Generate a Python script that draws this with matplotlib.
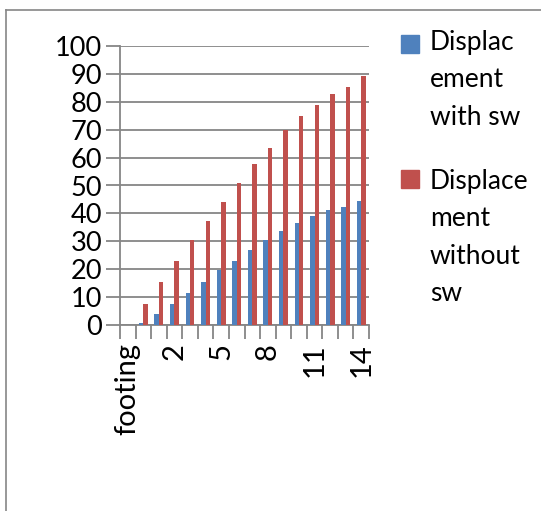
import matplotlib
matplotlib.use("Agg")
import matplotlib.pyplot as plt
import numpy as np
from matplotlib.patches import Rectangle
from matplotlib.lines import Line2D

plt.rcParams['font.family'] = ['Lato', 'DejaVu Sans']

categories = ["footing", "0", "1", "2", "3", "4", "5", "6", "7", "8", "9", "10", "11", "12", "13", "14"]
with_sw = [0, 0.7, 4.1, 7.6, 11.5, 15.5, 19.8, 23.0, 27.0, 30.4, 33.8, 36.6, 38.9, 41.2, 42.4, 44.6]
without_sw = [0, 7.5, 15.5, 23.0, 30.4, 37.2, 44.0, 51.0, 57.8, 63.5, 69.8, 74.9, 78.9, 82.9, 85.2, 89.4]
series_labels = ["Displac\nement\nwith sw", "Displace\nment\nwithout\nsw"]
colors = ["#4F81BD", "#C0504D"]

W, H = 541, 511
fig = plt.figure(figsize=(W / 100, H / 100), dpi=100)
ax = fig.add_axes([120 / W, 1 - 325 / H, (369 - 120) / W, (325 - 46) / H])

x = np.arange(len(categories))
bw = 0.286
ax.bar(x - bw / 2, with_sw, width=bw, color=colors[0], zorder=3)
ax.bar(x + bw / 2, without_sw, width=bw, color=colors[1], zorder=3)

grid_c = "#868686"
ax.set_ylim(0, 100)
ax.set_xlim(-0.5, len(categories) - 0.5)
ax.set_yticks(np.arange(0, 101, 10))
ax.yaxis.grid(True, color=grid_c, linewidth=1.3, zorder=0)
ax.set_axisbelow(True)
for s in ["top", "right"]:
    ax.spines[s].set_visible(False)
for s in ["left", "bottom"]:
    ax.spines[s].set_color(grid_c)
    ax.spines[s].set_linewidth(1.3)
ax.tick_params(axis='y', length=10, width=1.3, color=grid_c, labelsize=19.5, pad=3)

# x ticks: major at category boundaries (marks only), labels every 3rd category
ax.set_xticks(np.arange(-0.5, len(categories), 1.0))
ax.set_xticklabels([])
ax.tick_params(axis='x', which='major', length=10, width=1.3, color=grid_c)
ax.set_xticks(x[::3], minor=True)
ax.set_xticklabels([categories[i] for i in x[::3]], minor=True, rotation=90, fontsize=21)
ax.tick_params(axis='x', which='minor', length=0, pad=13)

# legend (manual)
items = [(35, 430, 35), (170, 430, 174)]
for (ytop, tx, captop), lab, c in zip(items, series_labels, colors):
    fig.patches.append(Rectangle((401 / W, 1 - (ytop + 18) / H), 18 / W, 18 / H,
                                 transform=fig.transFigure, color=c))
    fig.text(tx / W, 1 - (captop - 5) / H, lab, fontsize=19, va='top', ha='left', linespacing=1.62)

# chart border
fig.add_artist(Line2D([6 / W, 6 / W], [0, 1 - 10 / H], transform=fig.transFigure, color=grid_c, lw=1.2))
fig.add_artist(Line2D([6 / W, 1], [1 - 10 / H, 1 - 10 / H], transform=fig.transFigure, color=grid_c, lw=1.2))

fig.savefig("out.png", dpi=100)
